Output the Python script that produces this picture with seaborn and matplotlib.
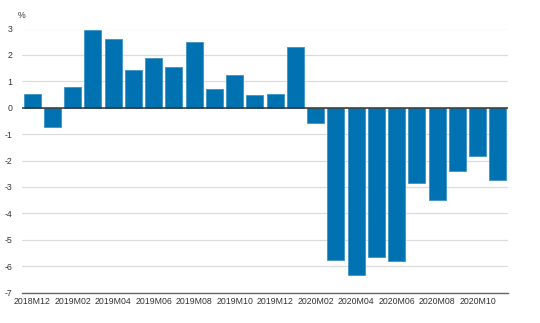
import matplotlib
matplotlib.use("Agg")
import matplotlib.pyplot as plt
import seaborn as sns
import pandas as pd

months = ["2018M12",
          "2019M01", "2019M02", "2019M03", "2019M04", "2019M05", "2019M06",
          "2019M07", "2019M08", "2019M09", "2019M10", "2019M11", "2019M12",
          "2020M01", "2020M02", "2020M03", "2020M04", "2020M05", "2020M06",
          "2020M07", "2020M08", "2020M09", "2020M10", "2020M11"]
values = [0.5, -0.72, 0.78, 2.96, 2.62, 1.43, 1.9, 1.56, 2.48, 0.7, 1.22, 0.47, 0.52,
          2.29, -0.57, -5.76, -6.33, -5.66, -5.8, -2.85, -3.49, -2.4, -1.82, -2.74]
yticks = [3, 2, 1, 0, -1, -2, -3, -4, -5, -6, -7]

df = pd.DataFrame({"month": months, "value": values})

sns.set_style("white")
plt.rcParams['font.family'] = ['Liberation Sans', 'DejaVu Sans']

fig = plt.figure(figsize=(5.4, 3.23), dpi=100)
ax = fig.add_axes([22/540, 1-292.5/323, (508-22)/540, (292.5-28.5)/323])

sns.barplot(data=df, x="month", y="value", color="#0072b2", saturation=1,
            width=0.85, edgecolor="#3d93c6", linewidth=0.6, ax=ax, zorder=3)

ax.set_ylim(-7, 3)
ax.set_xlim(-0.5, len(months) - 0.5)
ax.set_yticks(yticks)
ax.set_yticklabels([str(t) for t in yticks])
ax.grid(axis="y", color="#dcdcdc", linewidth=0.9, zorder=0)
ax.set_axisbelow(True)
ax.axhline(0, color="#333333", linewidth=1.1, zorder=4)

xt = list(range(0, len(months), 2))
ax.set_xticks(xt)
ax.set_xticklabels([months[i] for i in xt])

for s in ["top", "right", "left"]:
    ax.spines[s].set_visible(False)
ax.spines["bottom"].set_color("#666666")
ax.spines["bottom"].set_linewidth(1.0)

ax.tick_params(axis="x", length=0, labelsize=6.3, colors="#333333", pad=3)
ax.tick_params(axis="y", length=0, labelsize=6.3, colors="#333333", pad=7)
ax.set_xlabel("")
ax.set_ylabel("")
fig.text(18/540, 1-16/323, "%", fontsize=6.3, color="#333333", ha="left", va="center")

fig.savefig("out.png", dpi=100)
